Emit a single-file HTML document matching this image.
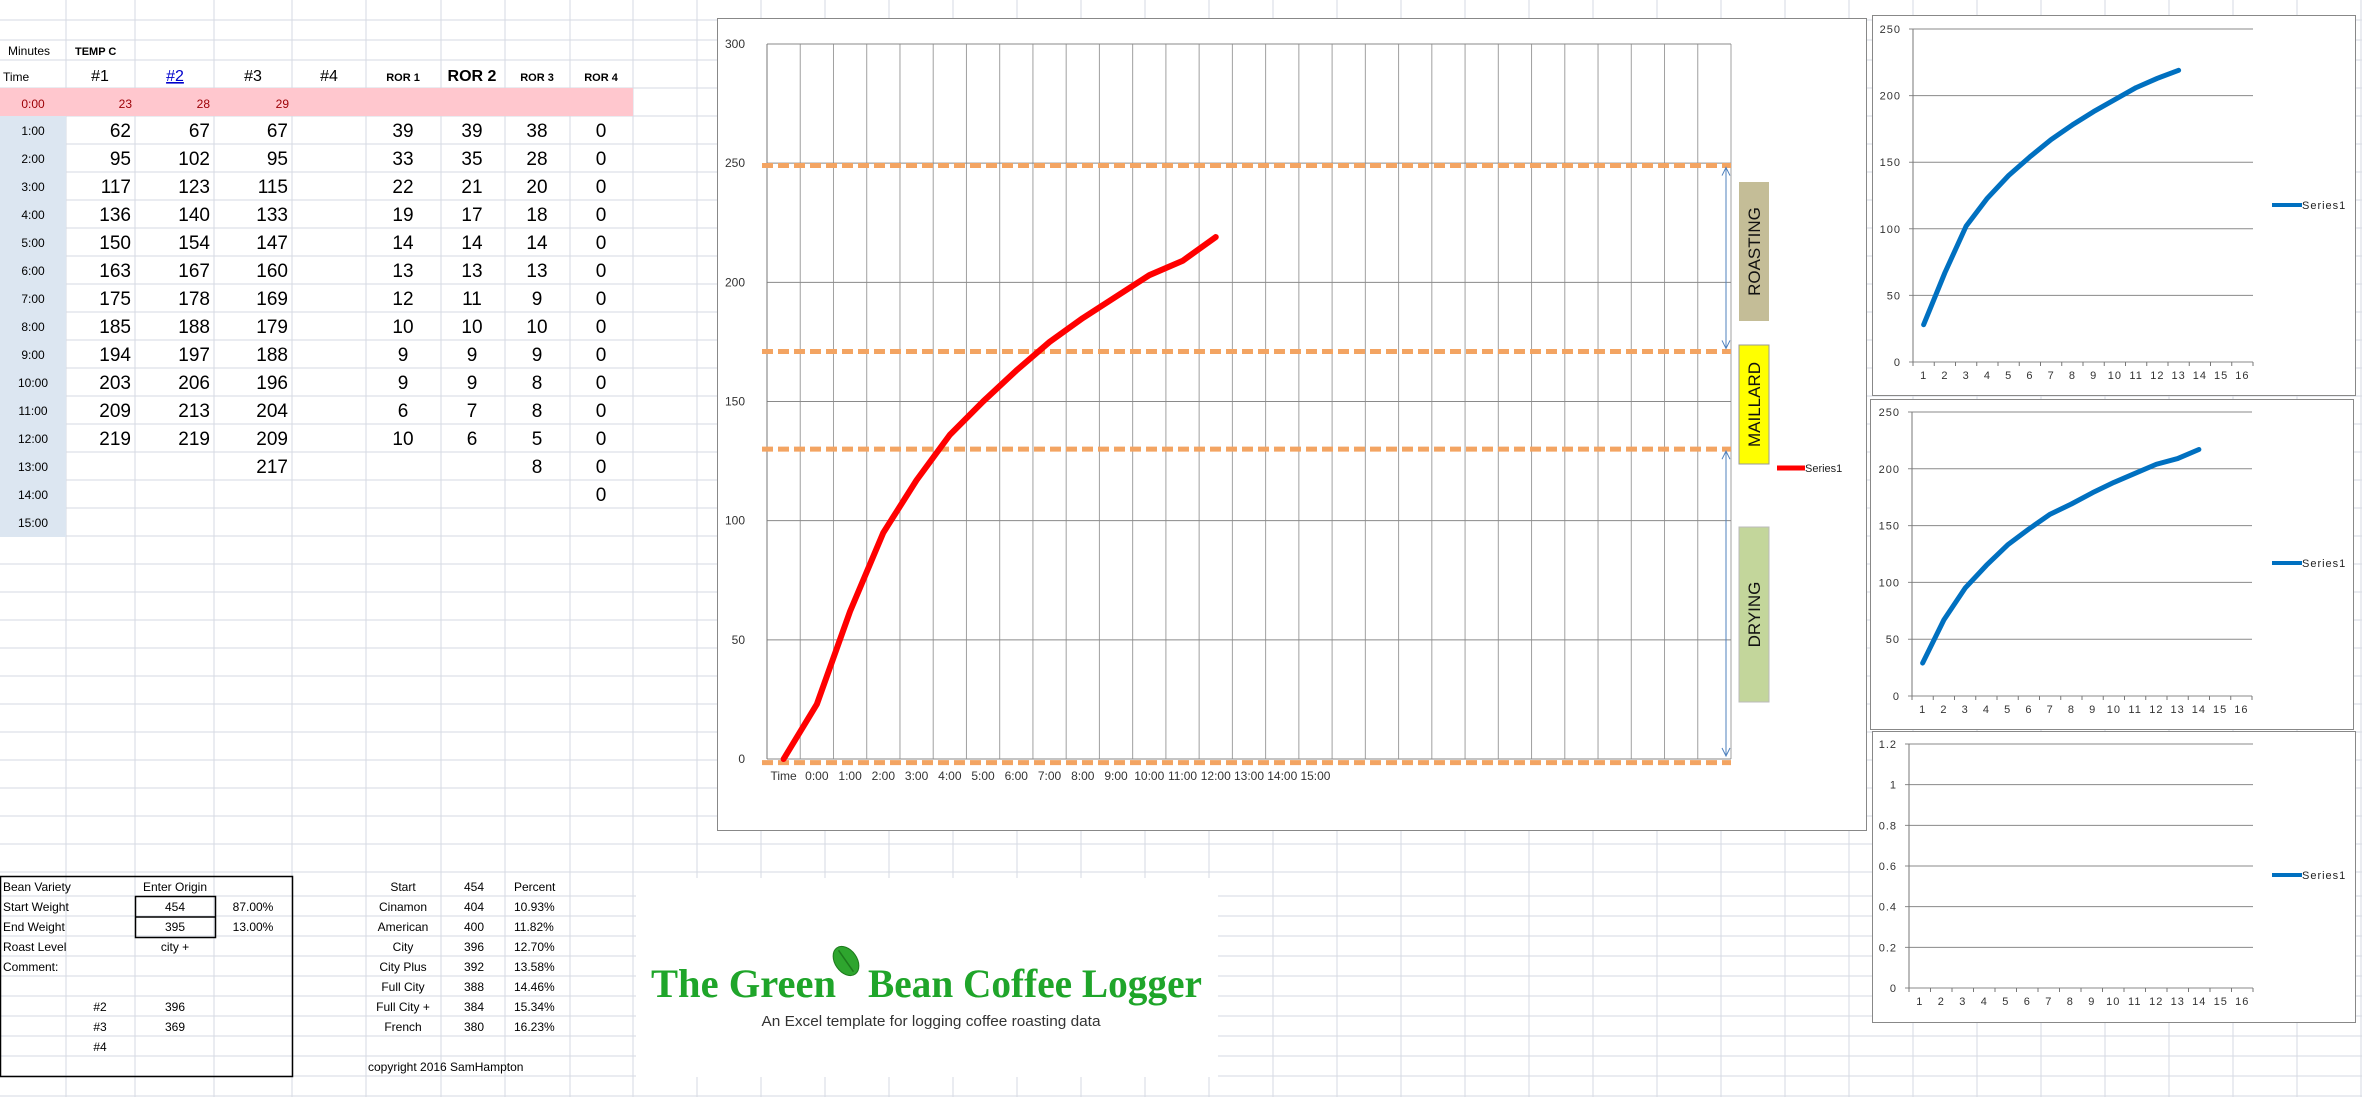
<!DOCTYPE html>
<html><head><meta charset="utf-8">
<style>
html,body{margin:0;padding:0;background:#fff;}
svg{display:block;font-family:"Liberation Sans",sans-serif;}
</style></head>
<body>
<svg id="root" width="2362" height="1097" viewBox="0 0 2362 1097" xmlns="http://www.w3.org/2000/svg">
  <g id="grid"></g>
  <g id="sheet"></g>
  <g id="bottom"></g>
  <g id="logo">
    <rect x="636" y="878" width="582" height="199" fill="#fff"/>
    <text x="651" y="997" font-family="Liberation Serif, serif" font-weight="bold" font-size="40" fill="#1fa52a" textLength="185" lengthAdjust="spacingAndGlyphs">The Green</text>
    <text x="868" y="997" font-family="Liberation Serif, serif" font-weight="bold" font-size="40" fill="#1fa52a" textLength="334" lengthAdjust="spacingAndGlyphs">Bean Coffee Logger</text>
    <g transform="translate(846,961) rotate(-35)">
      <ellipse cx="0" cy="0" rx="11" ry="16" fill="#2ea52e" stroke="#1c7a1c" stroke-width="1"/>
      <line x1="0" y1="-13" x2="0" y2="13" stroke="#1c7a1c" stroke-width="1.5"/>
    </g>
    <text x="931" y="1026" text-anchor="middle" font-size="15" fill="#333" textLength="339" lengthAdjust="spacingAndGlyphs">An Excel template for logging coffee roasting data</text>
  </g>
  <g id="main"></g>
  <g id="small"></g>
</svg>
<script>
// ---------- data ----------
const mainCategories = ["Time","0:00","1:00","2:00","3:00","4:00","5:00","6:00","7:00","8:00","9:00","10:00","11:00","12:00","13:00","14:00","15:00","","","","","","","","","","","",""];
const mainSeries = [0,23,62,95,117,136,150,163,175,185,194,203,209,219];
const mainYTicks = [0,50,100,150,200,250,300];
const phaseLines = [249,171,130,-1.5];
const miniCategories = ["1","2","3","4","5","6","7","8","9","10","11","12","13","14","15","16"];
const miniSeriesA = [28,67,102,123,140,154,167,178,188,197,206,213,219];
const miniSeriesB = [29,67,95,115,133,147,160,169,179,188,196,204,209,217];
const miniSeriesC = [];
const miniTicksAB = [0,50,100,150,200,250];
const miniTicksC = ["0","0.2","0.4","0.6","0.8","1","1.2"];
const times = ["1:00","2:00","3:00","4:00","5:00","6:00","7:00","8:00","9:00","10:00","11:00","12:00","13:00","14:00","15:00"];
const temp1 = [62,95,117,136,150,163,175,185,194,203,209,219];
const temp2 = [67,102,123,140,154,167,178,188,197,206,213,219];
const temp3 = [67,95,115,133,147,160,169,179,188,196,204,209,217];
const ror1 = [39,33,22,19,14,13,12,10,9,9,6,10];
const ror2 = [39,35,21,17,14,13,11,10,9,9,7,6];
const ror3 = [38,28,20,18,14,13,9,10,9,8,8,5,8];
const ror4 = [0,0,0,0,0,0,0,0,0,0,0,0,0,0];
const roastNames = ["Start","Cinamon","American","City","City Plus","Full City","Full City +","French"];
const roastWeights = [454,404,400,396,392,388,384,380];
const roastPct = ["Percent","10.93%","11.82%","12.70%","13.58%","14.46%","15.34%","16.23%"];

const NS="http://www.w3.org/2000/svg";
function mk(parent,tag,attrs,txt){const e=document.createElementNS(NS,tag);for(const k in attrs)e.setAttribute(k,attrs[k]);if(txt!==undefined)e.textContent=txt;parent.appendChild(e);return e;}

// ---------- gridlines ----------
const grid=document.getElementById('grid');
const colX=[66,135,214,292,366,441,505,570,633];
for(let x=697;x<2362;x+=64)colX.push(x);
const rowY=[20,40,60,88];
for(let y=116;y<=876;y+=28)rowY.push(y);
for(let y=896;y<1097;y+=20)rowY.push(y);
colX.forEach(x=>{const l=mk(grid,'line',{x1:x,y1:0,x2:x,y2:1097,stroke:'#d5dae3','stroke-width':1});

});
rowY.forEach(y=>{const l=mk(grid,'line',{x1:0,y1:y,x2:2362,y2:y,stroke:'#d5dae3','stroke-width':1});

});

// ---------- top table ----------
const sh=document.getElementById('sheet');
mk(sh,'rect',{x:0,y:88,width:633,height:28,fill:'#ffc7ce',});
mk(sh,'rect',{x:0,y:116,width:66,height:421,fill:'#dce6f1',});
mk(sh,'text',{x:8,y:55,'font-size':12,fill:'#000',},'Minutes');
mk(sh,'text',{x:75,y:55,'font-size':11,'font-weight':'bold',fill:'#000',},'TEMP C');
mk(sh,'text',{x:3,y:81,'font-size':12,fill:'#000',},'Time');
const heads=[["#1",100,16,false],["#2",175,16,false],["#3",253,16,false],["#4",329,16,false],["ROR 1",403,11,true],["ROR 2",472,16,true],["ROR 3",537,11,true],["ROR 4",601,11,true]];
heads.forEach(h=>{const t=mk(sh,'text',{x:h[1],y:81,'text-anchor':'middle','font-size':h[2],'font-weight':h[3]?'bold':'normal',fill:h[0]==='#2'?'#0000cc':'#000','text-decoration':h[0]==='#2'?'underline':'none'},h[0]);

});
mk(sh,'text',{x:33,y:108,'text-anchor':'middle','font-size':12,fill:'#9c0006',},'0:00');
[[23,132],[28,210],[29,289]].forEach(p=>{const t=mk(sh,'text',{x:p[1],y:108,'text-anchor':'end','font-size':12,fill:'#9c0006'},p[0]);

});
times.forEach((tm,i)=>{const y=116+28*i;const t=mk(sh,'text',{x:33,y:y+19,'text-anchor':'middle','font-size':12,fill:'#000'},tm);

});
function col(arr,x,anchor,name){arr.forEach((v,i)=>{const y=116+28*i;const t=mk(sh,'text',{x:x,y:y+21,'text-anchor':anchor,'font-size':19,fill:'#000'},v);

});}
col(temp1,131,'end','temp1-cell');col(temp2,210,'end','temp2-cell');col(temp3,288,'end','temp3-cell');
col(ror1,403,'middle','ror1-cell');col(ror2,472,'middle','ror2-cell');col(ror3,537,'middle','ror3-cell');col(ror4,601,'middle','ror4-cell');

// ---------- bottom tables ----------
const bt=document.getElementById('bottom');
mk(bt,'rect',{x:0.5,y:876.5,width:292,height:200,fill:'none',stroke:'#000','stroke-width':1.5,});
mk(bt,'rect',{x:135.5,y:896.5,width:80,height:41,fill:'none',stroke:'#000','stroke-width':1.5,});
mk(bt,'line',{x1:135,y1:917,x2:215,y2:917,stroke:'#000','stroke-width':1.5,});
const lbls=[["Bean Variety",891],["Start Weight",911],["End Weight",931],["Roast Level",951],["Comment:",971]];
lbls.forEach(l=>{const t=mk(bt,'text',{x:3,y:l[1],'font-size':12,fill:'#000'},l[0]);

});
const vals=[["Enter Origin",175,891],["454",175,911],["395",175,931],["city +",175,951],["396",175,1011],["369",175,1031],["87.00%",253,911],["13.00%",253,931],["#2",100,1011],["#3",100,1031],["#4",100,1051]];
vals.forEach(v=>{const t=mk(bt,'text',{x:v[1],y:v[2],'text-anchor':'middle','font-size':12,fill:'#000'},v[0]);

});
roastNames.forEach((n,i)=>{const y=891+20*i;
const a=mk(bt,'text',{x:403,y:y,'text-anchor':'middle','font-size':12,fill:'#000'},n);


const b=mk(bt,'text',{x:474,y:y,'text-anchor':'middle','font-size':12,fill:'#000'},roastWeights[i]);


const c=mk(bt,'text',{x:514,y:y,'font-size':12,fill:'#000'},roastPct[i]);

});
mk(bt,'text',{x:368,y:1071,'font-size':12,fill:'#000',},'copyright 2016 SamHampton');

// ---------- main chart ----------
const mg=document.getElementById('main');
mk(mg,'rect',{x:717.5,y:18.5,width:1149,height:812,fill:'#fff',stroke:'#888','stroke-width':1,});
const PL=767,PR=1731,PB=759,PT=44;
const xM=i=>PL+(i+0.5)*(PR-PL)/mainCategories.length;
const yM=v=>PB-v*(PB-PT)/300;
for(let i=0;i<=mainCategories.length;i++){const x=PL+i*(PR-PL)/mainCategories.length;
const l=mk(mg,'line',{x1:x,y1:PT,x2:x,y2:PB,stroke:'#a0a0a0','stroke-width':1});

}
mainYTicks.forEach(v=>{const l=mk(mg,'line',{x1:PL,y1:yM(v),x2:PR,y2:yM(v),stroke:'#8a8a8a','stroke-width':1});


const t=mk(mg,'text',{x:745,y:yM(v)+4,'text-anchor':'end','font-size':12,fill:'#333'},v);

});
mk(mg,'line',{x1:PL,y1:PT,x2:PL,y2:PB,stroke:'#777','stroke-width':1,});
mainCategories.forEach((c,i)=>{if(!c)return;const t=mk(mg,'text',{x:xM(i),y:780,'text-anchor':'middle','font-size':12,fill:'#333'},c);

});
phaseLines.forEach(v=>{const l=mk(mg,'line',{x1:762,y1:yM(v),x2:PR,y2:yM(v),stroke:'#f3a462','stroke-width':5,'stroke-dasharray':'11 5'});

});
// arrows
[[phaseLines[0],phaseLines[1]],[phaseLines[2],0]].forEach(p=>{
const y1=yM(p[0])+2,y2=yM(p[1])-3;
const l=mk(mg,'line',{x1:1726,y1:y1,x2:1726,y2:y2,stroke:'#4f81bd','stroke-width':1});


const h1=mk(mg,'path',{d:`M1722,${y1+8} L1726,${y1} L1730,${y1+8}`,fill:'none',stroke:'#4f81bd','stroke-width':1});


const h2=mk(mg,'path',{d:`M1722,${y2-8} L1726,${y2} L1730,${y2-8}`,fill:'none',stroke:'#4f81bd','stroke-width':1});

});
const boxes=[["ROASTING",182,321,'#c4bd97','none'],["MAILLARD",345,464,'#ffff00','#999'],["DRYING",527,702,'#c3d69b','#bbb']];
boxes.forEach(b=>{const r=mk(mg,'rect',{x:1739,y:b[1],width:30,height:b[2]-b[1],fill:b[3],stroke:b[4],'stroke-width':1});


const cy=(b[1]+b[2])/2;const t=mk(mg,'text',{x:1754,y:cy,'text-anchor':'middle','font-size':17,fill:'#111',transform:`rotate(-90 1754 ${cy}) translate(0 6)`},b[0]);

});
const mp=mk(mg,'polyline',{points:mainSeries.map((v,i)=>xM(i)+','+yM(v)).join(' '),fill:'none',stroke:'#ff0000','stroke-width':6,'stroke-linejoin':'round','stroke-linecap':'round'});


mk(mg,'line',{x1:1777,y1:468,x2:1805,y2:468,stroke:'#ff0000','stroke-width':5,});
mk(mg,'text',{x:1805,y:472,'font-size':11,fill:'#222',},'Series1');

// ---------- mini charts ----------
const sg=document.getElementById('small');
function mini(cfg){
  const g=mk(sg,'g',{});
  
  
  mk(g,'rect',{x:cfg.bx+0.5,y:cfg.by+0.5,width:cfg.bw,height:cfg.bh,fill:'#fff',stroke:'#888','stroke-width':1,});
  const n=miniCategories.length;const xs=i=>cfg.l+(i+0.5)*(cfg.r-cfg.l)/n;const ys=v=>cfg.b-v*(cfg.b-cfg.t)/cfg.max;
  cfg.ticks.forEach(tv=>{const v=parseFloat(tv);
    const l=mk(g,'line',{x1:cfg.l-4,y1:ys(v),x2:cfg.r,y2:ys(v),stroke:'#8a8a8a','stroke-width':1});
    
    
    const t=mk(g,'text',{x:cfg.l-12,y:ys(v)+4,'text-anchor':'end','font-size':11,fill:'#333','letter-spacing':'1'},tv);
    
    });
  mk(g,'line',{x1:cfg.l,y1:cfg.t,x2:cfg.l,y2:cfg.b,stroke:'#777','stroke-width':1,});
  for(let i=0;i<=n;i++){const x=cfg.l+i*(cfg.r-cfg.l)/n;
    const l=mk(g,'line',{x1:x,y1:cfg.b,x2:x,y2:cfg.b+4,stroke:'#777','stroke-width':1});
    
    }
  miniCategories.forEach((c,i)=>{const t=mk(g,'text',{x:xs(i),y:cfg.b+17,'text-anchor':'middle','font-size':11,fill:'#333','letter-spacing':'1'},c);
    
    });
  if(cfg.data.length){const p=mk(g,'polyline',{points:cfg.data.map((v,i)=>xs(i)+','+ys(v)).join(' '),fill:'none',stroke:'#0070c0','stroke-width':5,'stroke-linejoin':'round','stroke-linecap':'round'});
    
    }
  mk(g,'line',{x1:2272,y1:cfg.ly,x2:2302,y2:cfg.ly,stroke:'#0070c0','stroke-width':4,});
  mk(g,'text',{x:2302,y:cfg.ly+4,'font-size':11,fill:'#222','letter-spacing':'1',},'Series1');
}
mini({name:'mini-chart-1',bx:1872,by:15,bw:483,bh:380,l:1913,r:2253,t:29,b:362,max:250,ticks:miniTicksAB,data:miniSeriesA,ly:205});
mini({name:'mini-chart-2',bx:1870,by:399,bw:483,bh:330,l:1912,r:2252,t:412,b:696,max:250,ticks:miniTicksAB,data:miniSeriesB,ly:563});
mini({name:'mini-chart-3',bx:1872,by:731,bw:483,bh:291,l:1909,r:2253,t:744,b:988,max:1.2,ticks:miniTicksC,data:miniSeriesC,ly:875});
</script>
</body></html>
